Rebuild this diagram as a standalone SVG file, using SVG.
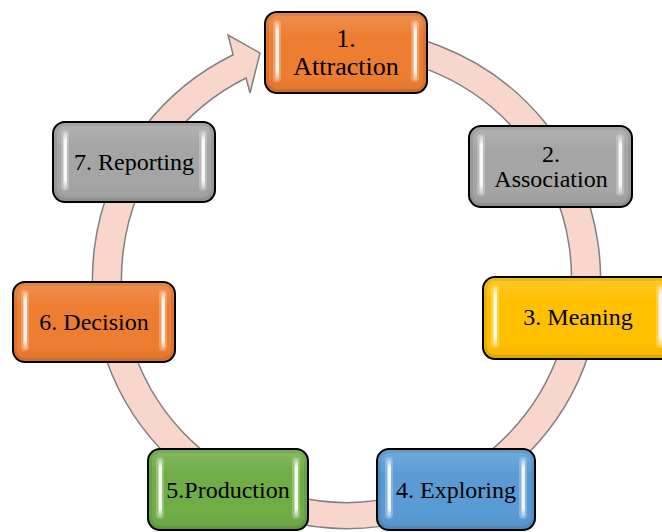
<svg xmlns="http://www.w3.org/2000/svg" width="662" height="532" viewBox="0 0 662 532">
  <defs>
    <linearGradient id="hl" x1="0" y1="0" x2="0" y2="1">
      <stop offset="0" stop-color="#fff" stop-opacity="0.2"/>
      <stop offset="0.15" stop-color="#fff" stop-opacity="0.9"/>
      <stop offset="0.85" stop-color="#fff" stop-opacity="0.9"/>
      <stop offset="1" stop-color="#fff" stop-opacity="0.2"/>
    </linearGradient>
    <linearGradient id="sheen" x1="0" y1="0" x2="0" y2="1">
      <stop offset="0" stop-color="#fff" stop-opacity="0.15"/>
      <stop offset="0.3" stop-color="#fff" stop-opacity="0"/>
      <stop offset="0.8" stop-color="#000" stop-opacity="0"/>
      <stop offset="1" stop-color="#000" stop-opacity="0.06"/>
    </linearGradient>
  </defs>
  <style>
    .box { stroke: #000; stroke-width: 2; }
    .inner { fill: none; stroke: #000; stroke-opacity: 0.08; stroke-width: 3; }
    .sheen { fill: url(#sheen); }
    .hl { fill: url(#hl); }
    .glow { fill: #fff; fill-opacity: 0.25; }
    .lbl { font-family: "Liberation Serif", "Times New Roman", serif; font-size: 24px; fill: #000; text-anchor: middle; }
    .ring { fill: #F8D6CC; stroke: #808080; stroke-width: 1.5; stroke-linejoin: miter; }
    .orange { fill: #ED7D31; }
    .gray { fill: #A5A5A5; }
    .gold { fill: #FFC000; }
    .blue { fill: #5B9BD5; }
    .green { fill: #70AD47; }
  </style>

  <g id="connectors">
    <path class="ring" d="M324.36,29.45 A254,250 0 1 1 233.17,54.77 L228,35 L260,53 L250,93 L246.10,78.04 A225,224 0 1 0 326.89,55.35 Z"/>
  </g>

  <g id="node1">
    <rect class="box orange" x="265" y="12" width="162" height="81" rx="12"/>
    <rect class="sheen" x="266" y="13" width="160" height="79" rx="11"/>
    <rect class="inner" x="267.5" y="14.5" width="157" height="76" rx="10"/>
    <rect class="glow" x="273" y="20" width="8" height="62" rx="4"/>
    <rect class="hl" x="275.5" y="22" width="3.5" height="58" rx="1.75"/>
    <rect class="glow" x="411" y="20" width="8" height="62" rx="4"/>
    <rect class="hl" x="413.5" y="22" width="3.5" height="58" rx="1.75"/>
    <text class="lbl" x="346" y="47" style="font-size:26px">1.</text>
    <text class="lbl" x="346" y="75" style="font-size:26px">Attraction</text>
  </g>

  <g id="node2">
    <rect class="box gray" x="469" y="126" width="163" height="81" rx="12"/>
    <rect class="sheen" x="470" y="127" width="161" height="79" rx="11"/>
    <rect class="inner" x="471.5" y="128.5" width="158" height="76" rx="10"/>
    <rect class="glow" x="477" y="134" width="8" height="62" rx="4"/>
    <rect class="hl" x="479.5" y="136" width="3.5" height="58" rx="1.75"/>
    <rect class="glow" x="616" y="134" width="8" height="62" rx="4"/>
    <rect class="hl" x="618.5" y="136" width="3.5" height="58" rx="1.75"/>
    <text class="lbl" x="551" y="162">2.</text>
    <text class="lbl" x="551" y="187">Association</text>
  </g>

  <g id="node3">
    <rect class="box gold" x="483" y="277" width="190" height="82" rx="12"/>
    <rect class="sheen" x="484" y="278" width="188" height="80" rx="11"/>
    <rect class="inner" x="485.5" y="279.5" width="185" height="77" rx="10"/>
    <rect class="glow" x="491" y="285" width="8" height="63" rx="4"/>
    <rect class="hl" x="493.5" y="287" width="3.5" height="59" rx="1.75"/>
    <rect class="glow" x="656" y="285" width="8" height="63" rx="4"/>
    <rect class="hl" x="658.5" y="287" width="3.5" height="59" rx="1.75"/>
    <text class="lbl" x="578" y="325">3. Meaning</text>
  </g>

  <g id="node4">
    <rect class="box blue" x="377" y="449" width="158" height="81" rx="12"/>
    <rect class="sheen" x="378" y="450" width="156" height="79" rx="11"/>
    <rect class="inner" x="379.5" y="451.5" width="153" height="76" rx="10"/>
    <rect class="glow" x="385" y="457" width="8" height="62" rx="4"/>
    <rect class="hl" x="387.5" y="459" width="3.5" height="58" rx="1.75"/>
    <rect class="glow" x="519" y="457" width="8" height="62" rx="4"/>
    <rect class="hl" x="521.5" y="459" width="3.5" height="58" rx="1.75"/>
    <text class="lbl" x="456" y="498">4. Exploring</text>
  </g>

  <g id="node5">
    <rect class="box green" x="148" y="449" width="160" height="81" rx="12"/>
    <rect class="sheen" x="149" y="450" width="158" height="79" rx="11"/>
    <rect class="inner" x="150.5" y="451.5" width="155" height="76" rx="10"/>
    <rect class="glow" x="156" y="457" width="8" height="62" rx="4"/>
    <rect class="hl" x="158.5" y="459" width="3.5" height="58" rx="1.75"/>
    <rect class="glow" x="292" y="457" width="8" height="62" rx="4"/>
    <rect class="hl" x="294.5" y="459" width="3.5" height="58" rx="1.75"/>
    <text class="lbl" x="228" y="498">5.Production</text>
  </g>

  <g id="node6">
    <rect class="box orange" x="13" y="282" width="162" height="80" rx="12"/>
    <rect class="sheen" x="14" y="283" width="160" height="78" rx="11"/>
    <rect class="inner" x="15.5" y="284.5" width="157" height="75" rx="10"/>
    <rect class="glow" x="21" y="290" width="8" height="61" rx="4"/>
    <rect class="hl" x="23.5" y="292" width="3.5" height="57" rx="1.75"/>
    <rect class="glow" x="159" y="290" width="8" height="61" rx="4"/>
    <rect class="hl" x="161.5" y="292" width="3.5" height="57" rx="1.75"/>
    <text class="lbl" x="94" y="330">6. Decision</text>
  </g>

  <g id="node7">
    <rect class="box gray" x="53" y="122" width="162" height="80" rx="12"/>
    <rect class="sheen" x="54" y="123" width="160" height="78" rx="11"/>
    <rect class="inner" x="55.5" y="124.5" width="157" height="75" rx="10"/>
    <rect class="glow" x="61" y="130" width="8" height="61" rx="4"/>
    <rect class="hl" x="63.5" y="132" width="3.5" height="57" rx="1.75"/>
    <rect class="glow" x="199" y="130" width="8" height="61" rx="4"/>
    <rect class="hl" x="201.5" y="132" width="3.5" height="57" rx="1.75"/>
    <text class="lbl" x="134" y="170">7. Reporting</text>
  </g>
</svg>
